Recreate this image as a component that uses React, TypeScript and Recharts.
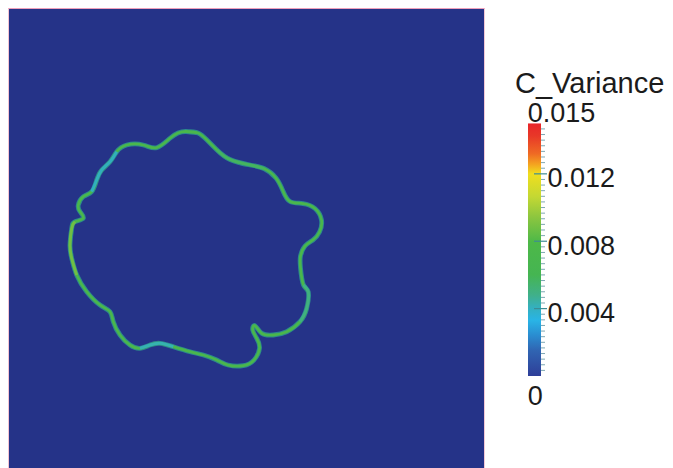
import React from "react";
import { ComposedChart, Line, Bar, XAxis, YAxis, ReferenceArea } from "recharts";

// ---- Interface contour (domain units) ----
const interfaceX = [
  37.26, 39.79, 41.68, 43.79, 46.53, 50.74, 53.68, 56.21, 57.68, 59.16,
  61.89, 64.42, 65.79, 65.37, 64.0, 62.32, 61.37, 61.37, 62.0, 63.01,
  62.67, 61.26, 58.46, 55.64, 53.2, 51.79, 51.31, 52.15, 52.74, 51.58,
  49.33, 46.11, 43.73, 40.91, 38.11, 34.59, 31.79, 29.68, 27.58, 25.47,
  23.37, 21.96, 21.26, 19.16, 16.36, 14.25, 13.2, 12.84, 13.2, 13.89,
  15.64, 14.95, 14.59, 15.64, 17.41, 18.46, 19.52, 21.26, 22.67, 24.78,
  28.27, 31.09, 33.89, 35.58,
];
const interfaceY = [
  70.84, 70.53, 69.05, 66.95, 64.95, 63.79, 63.05, 61.05, 58.32, 56.11,
  55.68, 54.63, 52.21, 49.68, 48.0, 46.74, 44.63, 42.11, 38.53, 37.05,
  33.62, 30.8, 28.69, 28.0, 28.36, 29.96, 29.05, 27.31, 25.2, 22.74,
  21.54, 21.68, 22.74, 23.79, 24.48, 25.54, 26.25, 25.89, 25.2, 25.89,
  28.0, 30.8, 32.91, 34.32, 37.12, 40.63, 44.15, 46.95, 50.46, 51.85,
  52.57, 53.96, 55.37, 57.12, 58.17, 60.63, 62.74, 64.48, 66.59, 68.0,
  68.0, 67.43, 69.41, 70.53,
];
const interfaceVariance = [
  0.0072, 0.0072, 0.0072, 0.0068, 0.0056, 0.0056, 0.0068, 0.0072, 0.0072, 0.0072,
  0.0074, 0.0074, 0.0076, 0.0076, 0.0074, 0.0072, 0.0072, 0.0072, 0.0068, 0.0046,
  0.0048, 0.0068, 0.0066, 0.0066, 0.0068, 0.0072, 0.0072, 0.0072, 0.0072, 0.0072,
  0.0072, 0.0072, 0.0072, 0.0072, 0.0068, 0.0068, 0.0036, 0.0038, 0.0068, 0.0072,
  0.0072, 0.0072, 0.0072, 0.0074, 0.0076, 0.0078, 0.0088, 0.0096, 0.0088, 0.0076,
  0.0072, 0.0072, 0.0072, 0.0068, 0.0062, 0.0032, 0.0028, 0.0034, 0.0062, 0.0072,
  0.0072, 0.0072, 0.0072, 0.0072,
];
const BASE_VARIANCE = 0.0072;

// ---- Colour legend ----
const LEGEND_TITLE = "C_Variance";
const VAR_MIN = 0;
const VAR_MAX = 0.015;
const colorbarTickValues = [0, 0.004, 0.008, 0.012, 0.015];
const colorbarTickLabels = ["0", "0.004", "0.008", "0.012", "0.015"];
const MINOR_DIVISIONS = 45;

const cmapPositions = [0, 0.1, 0.16, 0.22, 0.27, 0.32, 0.4, 0.53, 0.63, 0.71, 0.8, 0.84, 0.88, 0.95, 1];
const cmapColors = [
  "#2e3e98", "#3064b2", "#2a8cd0", "#29b4e6", "#34b0bf", "#40b08a", "#45b552",
  "#4db848", "#8dc63f", "#c4d833", "#f0de1e", "#f4a020", "#ef6a24", "#e83828", "#e8252a",
];

const FONT = "'Liberation Sans', Arial, Helvetica, sans-serif";

function hexToRgb(h: string) {
  const n = parseInt(h.slice(1), 16);
  return [(n >> 16) & 255, (n >> 8) & 255, n & 255];
}
function colorFor(v: number) {
  const f = Math.max(0, Math.min(1, (v - VAR_MIN) / (VAR_MAX - VAR_MIN)));
  for (let i = 0; i < cmapPositions.length - 1; i++) {
    const a = cmapPositions[i];
    const b = cmapPositions[i + 1];
    if (f >= a && f <= b) {
      const t = (f - a) / (b - a);
      const c1 = hexToRgb(cmapColors[i]);
      const c2 = hexToRgb(cmapColors[i + 1]);
      const c = c1.map((c, k) => Math.round(c + (c2[k] - c) * t));
      return `rgb(${c[0]},${c[1]},${c[2]})`;
    }
  }
  return cmapColors[cmapColors.length - 1];
}

const points = interfaceX.map((x, i) => ({ x, y: interfaceY[i], v: interfaceVariance[i] }));
const loop = [...points, points[0], points[1]];

// runs of points whose variance departs from the typical value
const overlays: { data: typeof points; color: string }[] = [];
{
  let i = 0;
  while (i < points.length) {
    if (Math.abs(points[i].v - BASE_VARIANCE) > 0.0012) {
      let j = i;
      while (j + 1 < points.length && Math.abs(points[j + 1].v - BASE_VARIANCE) > 0.0012) j++;
      const run = points.slice(i, j + 1);
      const mean = run.reduce((s, p) => s + p.v, 0) / run.length;
      overlays.push({ data: points.slice(Math.max(0, i - 1), Math.min(points.length, j + 2)), color: colorFor(mean) });
      i = j + 1;
    } else i++;
  }
}

const colorbarData = [{ name: LEGEND_TITLE, v: VAR_MAX }];
const colorbarTicks = Array.from({ length: MINOR_DIVISIONS + 1 }, (_, k) =>
  Number(((k * (VAR_MAX - VAR_MIN)) / MINOR_DIVISIONS + VAR_MIN).toFixed(7))
);

const ColorbarTick = (props: any) => {
  const { x, y, payload } = props;
  const v = payload.value;
  const li = colorbarTickValues.findIndex((t) => Math.abs(t - v) < 1e-7);
  const barW = 13.3;
  const textStyle = { fontFamily: FONT, fontSize: 27, fill: "#1b1b1b" };
  if (li === -1) {
    return <line x1={x} x2={x + 4} y1={y} y2={y} stroke="#7ea8b3" strokeWidth={1} />;
  }
  const label = colorbarTickLabels[li];
  if (v >= VAR_MAX - 1e-9) {
    return (
      <text x={x - barW} y={y - 1.5} {...textStyle}>
        {label}
      </text>
    );
  }
  if (v <= VAR_MIN + 1e-9) {
    return (
      <text x={x - barW} y={y + 29} {...textStyle}>
        {label}
      </text>
    );
  }
  return (
    <g>
      <line x1={x - 7} x2={x + 6} y1={y} y2={y} stroke="#3d8c94" strokeWidth={1.2} />
      <text x={x + 6.5} y={y + 13.5} {...textStyle}>
        {label}
      </text>
    </g>
  );
};

const DOMAIN_X: [number, number] = [0, 100];
const DOMAIN_Y: [number, number] = [0, 96.63];

export default function App() {
  return (
    <div style={{ position: "absolute", left: 0, top: 0, width: 673, height: 468, background: "#ffffff", overflow: "hidden" }}>
      <div
        style={{
          position: "absolute",
          left: 8,
          top: 8,
          width: 475,
          height: 470,
          borderTop: "1px solid #ee9fbb",
          borderLeft: "1px solid #f3c3d3",
          borderRight: "1px solid #f3c9d6",
        }}
      >
        <ComposedChart width={475} height={459} margin={{ top: 0, right: 0, bottom: 0, left: 0 }}>
          <XAxis type="number" dataKey="x" domain={DOMAIN_X} hide allowDataOverflow />
          <YAxis type="number" domain={DOMAIN_Y} hide allowDataOverflow />
          <ReferenceArea x1={DOMAIN_X[0]} x2={DOMAIN_X[1]} y1={DOMAIN_Y[0]} y2={DOMAIN_Y[1]} fill="#253388" fillOpacity={1} stroke="none" />
          <Line data={loop} dataKey="y" type="natural" stroke="#2f9f8c" strokeWidth={4.8} strokeOpacity={0.8} dot={false} activeDot={false} isAnimationActive={false} />
          <Line data={loop} dataKey="y" type="natural" stroke={colorFor(BASE_VARIANCE)} strokeWidth={2.8} dot={false} activeDot={false} isAnimationActive={false} />
          {overlays.map((o, i) => (
            <Line key={i} data={o.data} dataKey="y" type="natural" stroke={o.color} strokeWidth={3} strokeOpacity={0.75} dot={false} activeDot={false} isAnimationActive={false} />
          ))}
        </ComposedChart>
      </div>

      <svg style={{ position: "absolute", left: 0, top: 0 }} width={673} height={468}>
        <text x={515} y={93} fontFamily={FONT} fontSize={29} fill="#1b1b1b">
          {LEGEND_TITLE}
        </text>
      </svg>

      <div style={{ position: "absolute", left: 500, top: 60 }}>
        <ComposedChart
          width={173}
          height={360}
          data={colorbarData}
          barCategoryGap={0}
          barGap={0}
          margin={{ top: 63.3, right: 72, bottom: 44, left: 28 }}
        >
          <defs>
            <linearGradient id="cbarGrad" x1="0" y1="1" x2="0" y2="0">
              {cmapPositions.map((p, i) => (
                <stop key={i} offset={p} stopColor={cmapColors[i]} />
              ))}
            </linearGradient>
          </defs>
          <XAxis type="category" dataKey="name" hide />
          <YAxis
            type="number"
            orientation="right"
            width={60}
            domain={[VAR_MIN, VAR_MAX]}
            allowDataOverflow
            ticks={colorbarTicks}
            interval={0}
            tickSize={0}
            tickMargin={0}
            tickLine={false}
            axisLine={false}
            tick={(p: any) => <ColorbarTick {...p} />}
          />
          <Bar dataKey="v" fill="url(#cbarGrad)" isAnimationActive={false} />
        </ComposedChart>
      </div>
    </div>
  );
}
